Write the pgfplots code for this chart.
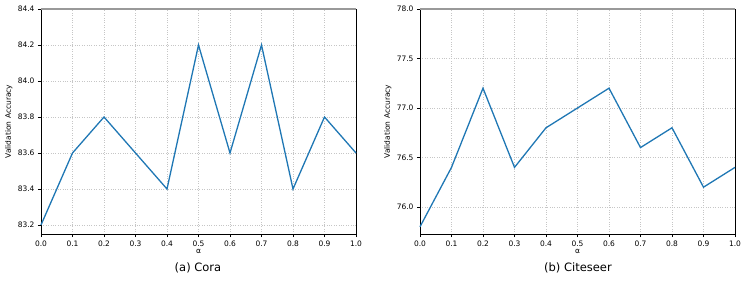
\documentclass[border=0pt]{standalone}
\usepackage{pgfplots}
\pgfplotsset{compat=1.18}
\usepackage{fontspec}
\setmainfont{DejaVu Sans}
\definecolor{tabblue}{HTML}{1F77B4}
\pgfplotsset{
  myax/.style={
    scale only axis, width=315pt, height=225pt,
    anchor=south west,
    xmin=0, xmax=1,
    xtick={0,0.1,...,1.0},
    tick align=outside, tick pos=left,
    major tick length=3pt,
    grid=major,
    grid style={dotted, gray!45, line width=0.5pt},
    axis line style={line width=0.7pt},
    every tick/.style={black, line width=0.6pt},
    tick label style={font=\fontsize{7.5}{8}\selectfont},
    label style={font=\fontsize{7.5}{8}\selectfont},
    /pgf/number format/assume math mode=true,
    /pgf/number format/fixed,
    /pgf/number format/fixed zerofill,
    /pgf/number format/precision=1,
    xlabel={α},
    ylabel={Validation Accuracy},
    xlabel style={at={(axis description cs:0.5,0)}, anchor=north, yshift=-12pt},
    ylabel style={at={(axis description cs:0,0.5)}, anchor=south, yshift=25pt},
    clip=false,
  }
}
\begin{document}
\begin{tikzpicture}
\begin{axis}[myax, at={(0pt,0pt)},
  ymin=83.15, ymax=84.4,
  ytick={83.2,83.4,...,84.41},
]
\addplot[tabblue, line width=1.3pt] coordinates {
(0.0,83.2) (0.1,83.6) (0.2,83.8) (0.3,83.6) (0.4,83.4) (0.5,84.2)
(0.6,83.6) (0.7,84.2) (0.8,83.4) (0.9,83.8) (1.0,83.6)};
\draw[gray!80, line width=1.2pt] (rel axis cs:0,1) -- (rel axis cs:1,1);
\end{axis}
\begin{axis}[myax, at={(379pt,0pt)},
  ymin=75.727, ymax=78.0,
  ytick={76.0,76.5,...,78.01},
]
\addplot[tabblue, line width=1.3pt] coordinates {
(0.0,75.8) (0.1,76.4) (0.2,77.2) (0.3,76.4) (0.4,76.8) (0.5,77.0)
(0.6,77.2) (0.7,76.6) (0.8,76.8) (0.9,76.2) (1.0,76.4)};
\draw[gray!80, line width=1.2pt] (rel axis cs:0,1) -- (rel axis cs:1,1);
\end{axis}
\node[font=\fontsize{11.5}{13}\selectfont] at (157pt,-34pt) {(a) Cora};
\node[font=\fontsize{11.5}{13}\selectfont] at (537pt,-34pt) {(b) Citeseer};
\pgfresetboundingbox
\useasboundingbox (-41pt,-48pt) rectangle (707pt,234pt);
\end{tikzpicture}
\end{document}
